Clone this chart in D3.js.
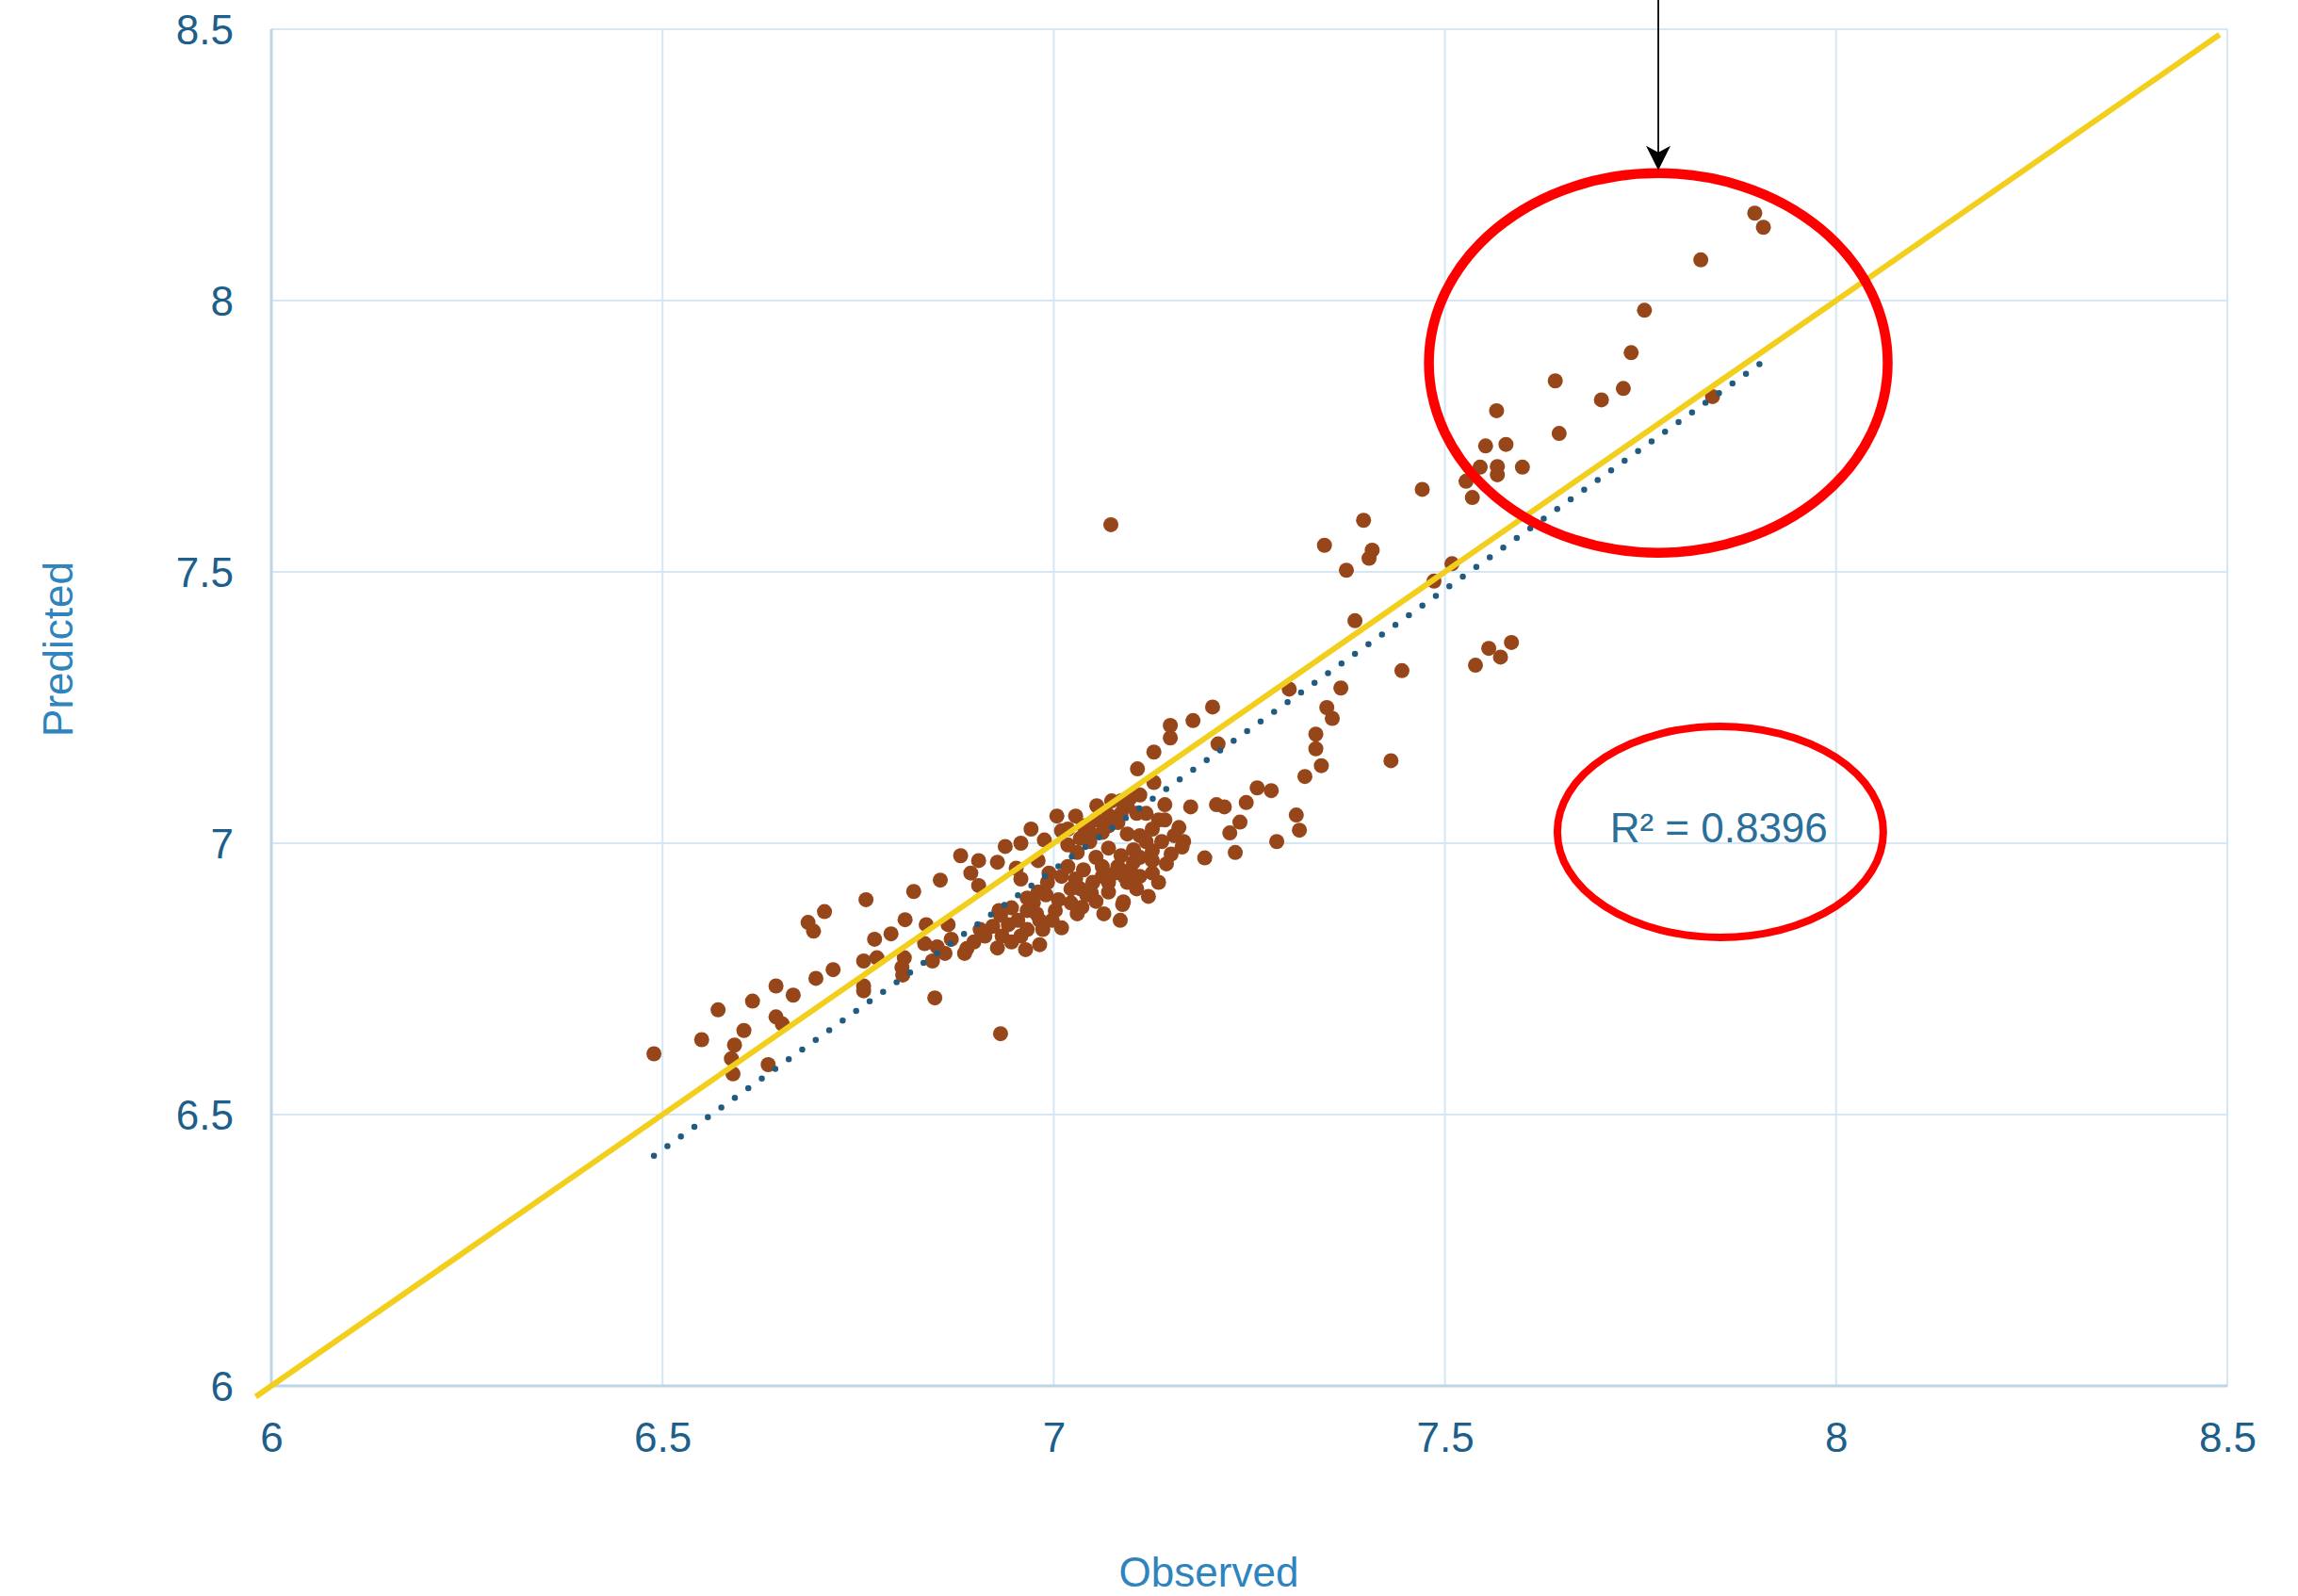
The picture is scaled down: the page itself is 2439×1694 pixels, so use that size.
<!DOCTYPE html>
<html>
<head>
<meta charset="utf-8">
<script src="https://cdn.jsdelivr.net/npm/d3@7/dist/d3.min.js"></script>
<style>
  html, body { margin: 0; padding: 0; background: #ffffff; }
  svg { display: block; }
  text { font-family: "Liberation Sans", Arial, sans-serif; }
</style>
</head>
<body>
<svg id="chart" width="2439" height="1694"></svg>
<script>
// ---------------- data ----------------
const observed = [
  7.896, 7.907, 7.827, 7.755, 7.738, 7.641, 7.728, 7.700, 7.842, 7.566, 7.646,
  7.552, 7.578, 7.545, 7.567, 7.567, 7.599, 7.527, 7.535, 7.471, 7.396, 7.346, 7.407, 7.403, 7.374,
  7.509, 7.486, 7.385, 7.445, 7.367, 7.349, 7.356, 7.335, 7.335, 7.342, 7.321, 7.431, 7.301,
  7.556, 7.585, 7.571, 7.539,
  7.073,
  7.203, 7.178, 7.149, 7.149, 7.128, 7.107, 7.210, 7.128, 7.110, 7.142, 7.175, 7.208, 7.218, 7.246,
  7.260, 7.278, 7.238, 7.225, 7.310, 7.314, 7.285, 7.232, 7.193, 7.160, 7.164, 7.134, 7.121, 7.089,
  7.055, 7.028, 7.004, 6.971, 7.010, 7.094, 7.082, 6.938, 6.958, 6.988, 6.881, 6.904, 6.928, 6.894,
  6.855, 6.904, 6.952, 6.958, 6.980, 6.994, 7.030, 7.046, 7.062, 7.070, 7.054, 7.086, 7.102, 7.118,
  7.126, 7.150, 7.144, 7.110, 7.094, 7.078, 7.062, 7.070, 7.050, 7.042, 7.022, 7.006, 6.992, 6.990,
  6.974, 6.966, 6.954, 6.942, 6.934, 6.946, 6.966, 6.982, 7.002, 7.010, 7.036, 7.048, 7.064, 7.088,
  7.085, 6.964, 6.982, 6.928, 6.912, 6.898, 6.886, 6.906, 6.930, 6.851, 6.861, 6.869, 6.845, 6.865,
  6.932,
  7.086, 7.106, 7.070, 7.038, 7.034, 7.018, 7.094, 7.110, 7.126, 7.138, 7.102, 7.082, 7.098, 7.126,
  7.062, 7.038, 7.018, 7.010, 7.028, 7.154, 7.022, 6.980,
  7.054, 7.070, 7.118, 7.126, 7.110, 7.090, 7.070, 7.034, 7.054, 7.030, 6.998, 6.986, 6.958, 6.978,
  6.966, 6.946, 6.922, 6.889, 7.142, 7.166, 7.134, 7.106, 7.086, 7.074, 7.098, 7.018, 7.046,
  6.821, 6.760, 6.707, 6.686, 6.693, 6.810, 6.837, 6.771, 6.792, 6.835, 6.757, 6.774, 6.809, 6.806,
  6.807, 6.757, 6.757, 6.718, 6.696, 6.645, 6.667, 6.615, 6.571, 6.645, 6.653, 6.604, 6.550, 6.592,
  6.588, 6.489, 6.635, 6.590, 6.848,
  6.932
];
const predicted = [
  8.161, 8.135, 8.075, 7.982, 7.904, 7.852, 7.838, 7.817, 7.823, 7.797, 7.755,
  7.732, 7.735, 7.693, 7.694, 7.679, 7.693, 7.667, 7.637, 7.652, 7.595, 7.549, 7.540, 7.525, 7.503,
  7.515, 7.483, 7.410, 7.318, 7.286, 7.250, 7.230, 7.201, 7.174, 7.143, 7.123, 7.152, 7.284,
  7.359, 7.370, 7.343, 7.328,
  7.587,
  7.251, 7.226, 7.217, 7.194, 7.168, 7.137, 7.183, 7.112, 7.089, 7.071, 7.067, 7.071, 7.067, 7.075,
  7.102, 7.097, 7.039, 7.019, 7.052, 7.024, 7.003, 6.983, 6.973, 7.029, 6.993, 7.043, 6.902, 6.892,
  7.069, 7.050, 7.050, 7.026, 7.023, 7.069, 7.038, 6.994, 7.000, 7.006, 6.977, 6.968, 6.965, 6.945,
  6.932, 6.922, 6.954, 6.934, 6.968, 6.945, 6.983, 7.003, 7.020, 6.991, 6.974, 6.977, 6.965, 7.003,
  6.968, 6.980, 6.962, 6.939, 6.928, 6.945, 6.939, 6.910, 6.928, 6.905, 6.916, 6.896, 6.928, 6.905,
  6.890, 6.876, 6.858, 6.850, 6.829, 6.818, 6.841, 6.858, 6.876, 6.844, 6.882, 6.908, 6.870, 6.887,
  6.858, 6.804, 6.813, 6.807, 6.829, 6.818, 6.797, 6.841, 6.876, 6.809, 6.797, 6.823, 6.783, 6.850,
  6.867,
  7.055, 7.055, 7.052, 7.032, 7.009, 6.997, 7.017, 7.014, 7.026, 7.003, 6.988, 6.957, 6.951, 6.945,
  6.957, 6.951, 6.957, 6.939, 6.934, 7.014, 6.890, 6.910,
  7.043, 7.032, 7.055, 6.986, 6.974, 6.939, 6.928, 6.916, 6.893, 6.870, 6.858, 6.841, 6.829, 6.870,
  6.899, 6.881, 6.847, 6.806, 7.043, 7.003, 6.928, 6.916, 7.078, 7.078, 7.084, 7.026, 7.020,
  6.911, 6.896, 6.874, 6.854, 6.838, 6.859, 6.850, 6.823, 6.833, 6.815, 6.783, 6.789, 6.789, 6.771,
  6.757, 6.737, 6.728, 6.767, 6.751, 6.737, 6.720, 6.709, 6.693, 6.680, 6.667, 6.655, 6.638, 6.628,
  6.603, 6.612, 6.592, 6.575, 6.715,
  6.649
];
const xTickValues = [6, 6.5, 7, 7.5, 8, 8.5];
const yTickValues = [6, 6.5, 7, 7.5, 8, 8.5];
const xTickLabels = ["6", "6.5", "7", "7.5", "8", "8.5"];
const yTickLabels = ["6", "6.5", "7", "7.5", "8", "8.5"];
const identityRange = [5.98, 8.49];          // y = x reference line
const trendSlope = 1.0325, trendIntercept = -0.276;
const r2Label = "R² = 0.8396";
const xTitle = "Observed", yTitle = "Predicted";

// ---------------- layout ----------------
const svg = d3.select("#chart");
const pLeft = 288, pRight = 2364, pTop = 31, pBottom = 1471;
const x = d3.scaleLinear().domain([6, 8.5]).range([pLeft, pRight]);
const y = d3.scaleLinear().domain([6, 8.5]).range([pBottom, pTop]);

const gridColor = "#d4e7f3", axisColor = "#bcd6e7";
const tickColor = "#1d5f8a", titleColor = "#2f84bd";

// gridlines
const grid = svg.append("g");
grid.selectAll("line.v").data(xTickValues.filter(v => v > 6)).join("line")
  .attr("class", "v")
  .attr("x1", d => x(d)).attr("x2", d => x(d)).attr("y1", pTop).attr("y2", pBottom)
  .attr("stroke", gridColor).attr("stroke-width", 2);
grid.selectAll("line.h").data(yTickValues.filter(v => v > 6)).join("line")
  .attr("class", "h")
  .attr("x1", pLeft).attr("x2", pRight).attr("y1", d => y(d)).attr("y2", d => y(d))
  .attr("stroke", gridColor).attr("stroke-width", 2);
// axis lines
grid.append("line").attr("x1", pLeft).attr("x2", pLeft).attr("y1", pTop).attr("y2", pBottom)
  .attr("stroke", axisColor).attr("stroke-width", 3);
grid.append("line").attr("x1", pLeft).attr("x2", pRight).attr("y1", pBottom).attr("y2", pBottom)
  .attr("stroke", axisColor).attr("stroke-width", 3);

// axes (labels only) via d3 axis generators
const xAxis = d3.axisBottom(x).tickValues(xTickValues)
  .tickFormat((d, i) => xTickLabels[i]).tickSize(0).tickPadding(0);
const gx = svg.append("g").attr("transform", `translate(0,${pBottom})`).call(xAxis);
gx.select(".domain").remove();
gx.selectAll("text").attr("font-size", 44).attr("fill", tickColor)
  .attr("font-family", '"Liberation Sans", Arial, sans-serif')
  .attr("dy", null).attr("y", 70);

const yAxis = d3.axisLeft(y).tickValues(yTickValues)
  .tickFormat((d, i) => yTickLabels[i]).tickSize(0).tickPadding(0);
const gy = svg.append("g").attr("transform", `translate(${pLeft},0)`).call(yAxis);
gy.select(".domain").remove();
gy.selectAll("text").attr("font-size", 44).attr("fill", tickColor)
  .attr("font-family", '"Liberation Sans", Arial, sans-serif')
  .attr("x", -40).attr("dy", "0.36em");

// axis titles
svg.append("text").attr("x", 1283).attr("y", 1684).attr("text-anchor", "middle")
  .attr("font-size", 44).attr("fill", titleColor).text(xTitle);
svg.append("text").attr("transform", "translate(77,689) rotate(-90)").attr("text-anchor", "middle")
  .attr("font-size", 44).attr("fill", titleColor).text(yTitle);

// scatter points
const pts = observed.map((o, i) => ({ o, p: predicted[i] }));
svg.append("g").selectAll("circle").data(pts).join("circle")
  .attr("cx", d => x(d.o)).attr("cy", d => y(d.p)).attr("r", 8)
  .attr("fill", "#97461a");

// linear trendline (dotted), spanning the observed range
const ext = d3.extent(observed);
const trend = ext.map(v => ({ o: v, p: trendSlope * v + trendIntercept }));
svg.append("path").datum(trend)
  .attr("d", d3.line().x(d => x(d.o)).y(d => y(d.p)))
  .attr("fill", "none").attr("stroke", "#215b80").attr("stroke-width", 6.5)
  .attr("stroke-linecap", "round").attr("stroke-dasharray", "0 17.6");

// y = x line
svg.append("path").datum(identityRange.map(v => ({ o: v, p: v })))
  .attr("d", d3.line().x(d => x(d.o)).y(d => y(d.p)))
  .attr("fill", "none").attr("stroke", "#f3cf1d").attr("stroke-width", 6);

// annotations: red ellipses, R² text, arrow (positions in data units)
const big = { cx: 7.7727, cy: 7.885, rx: 0.2932, ry: 0.3498 };
const small = { cx: 7.852, cy: 7.021, rx: 0.2083, ry: 0.1944 };
const kx = (pRight - pLeft) / 2.5, ky = (pBottom - pTop) / 2.5;
svg.append("ellipse").attr("cx", x(big.cx)).attr("cy", y(big.cy))
  .attr("rx", big.rx * kx).attr("ry", big.ry * ky)
  .attr("fill", "none").attr("stroke", "#ff0000").attr("stroke-width", 10.5);
svg.append("ellipse").attr("cx", x(small.cx)).attr("cy", y(small.cy))
  .attr("rx", small.rx * kx).attr("ry", small.ry * ky)
  .attr("fill", "none").attr("stroke", "#ff0000").attr("stroke-width", 8);

svg.append("text").attr("x", x(7.85)).attr("y", y(7.0017)).attr("text-anchor", "middle")
  .attr("font-size", 44).attr("fill", "#2a6f9a").text(r2Label);

const ax = x(big.cx), tipY = y(big.cy) - big.ry * ky - 3;
svg.append("line").attr("x1", ax).attr("x2", ax).attr("y1", 0).attr("y2", tipY - 15)
  .attr("stroke", "#000").attr("stroke-width", 1.8);
svg.append("path")
  .attr("d", `M${ax},${tipY} L${ax - 13},${tipY - 26} L${ax},${tipY - 19} L${ax + 13},${tipY - 26} Z`)
  .attr("fill", "#000");
</script>
</body>
</html>
